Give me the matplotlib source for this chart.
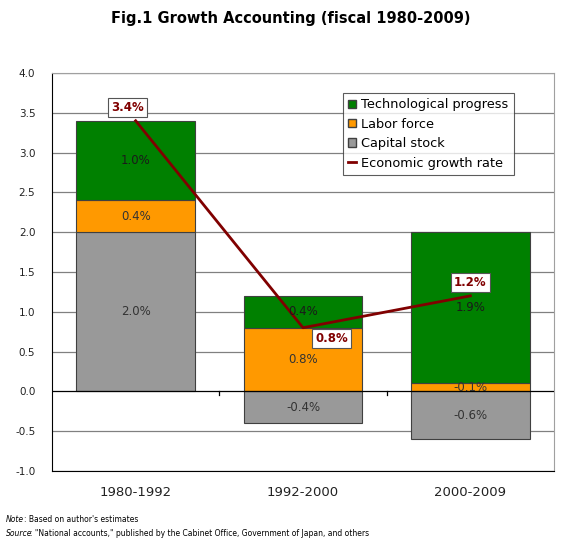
import matplotlib
matplotlib.use("Agg")
import matplotlib.pyplot as plt
import numpy as np
from matplotlib.patches import Patch
from matplotlib.lines import Line2D

periods = ["1980-1992", "1992-2000", "2000-2009"]
capital = [2.0, -0.4, -0.6]
labor = [0.4, 0.8, 0.1]
tech = [1.0, 0.4, 1.9]
growth = [3.4, 0.8, 1.2]
capital_labels = ["2.0%", "-0.4%", "-0.6%"]
labor_labels = ["0.4%", "0.8%", "-0.1%"]
tech_labels = ["1.0%", "0.4%", "1.9%"]
growth_labels = ["3.4%", "0.8%", "1.2%"]
yticks = [-1.0, -0.5, 0.0, 0.5, 1.0, 1.5, 2.0, 2.5, 3.0, 3.5, 4.0]

GREEN = "#008000"
ORANGE = "#FF9900"
GRAY = "#999999"
LINE = "#800000"

fig = plt.figure(figsize=(5.87, 5.46), dpi=100)
ax = fig.add_axes([52/587, 75/546, (554-52)/587, (471-73)/546])

x = np.arange(len(periods))
w = 0.71
cap = np.array(capital)
lab = np.array(labor)
tec = np.array(tech)
base_lab = np.where(cap > 0, cap, 0)
base_tec = base_lab + lab

ax.bar(x, cap, w, color=GRAY, edgecolor="#404040", linewidth=0.8, zorder=3)
ax.bar(x, lab, w, bottom=base_lab, color=ORANGE, edgecolor="#404040", linewidth=0.8, zorder=3)
ax.bar(x, tec, w, bottom=base_tec, color=GREEN, edgecolor="#404040", linewidth=0.8, zorder=3)

fs = 8.5
for i in range(len(x)):
    ax.text(x[i], cap[i] / 2, capital_labels[i], ha="center", va="center", fontsize=fs, color="#333333", zorder=5)
    ax.text(x[i], base_lab[i] + lab[i] / 2, labor_labels[i], ha="center", va="center", fontsize=fs, color="#333333", zorder=5)
    ax.text(x[i], base_tec[i] + tec[i] / 2, tech_labels[i], ha="center", va="center", fontsize=fs, color="#1a1a1a", zorder=5)

ax.plot(x, growth, color=LINE, linewidth=2, zorder=4)

offsets = [(-0.05, 0.17), (0.17, -0.14), (0.0, 0.17)]
for i in range(len(x)):
    dx, dy = offsets[i]
    ax.text(x[i] + dx, growth[i] + dy, growth_labels[i], ha="center", va="center",
            fontsize=8.5, fontweight="bold", color=LINE, zorder=6,
            bbox=dict(boxstyle="square,pad=0.25", facecolor="white", edgecolor="#555555", linewidth=0.8))

ax.set_xlim(-0.5, 2.5)
ax.set_ylim(-1.0, 4.0)
ax.set_yticks(yticks)
ax.set_yticklabels([f"{v:.1f}" for v in yticks], fontsize=7.5, color="#222222")
ax.set_xticks(x)
ax.set_xticklabels(periods, fontsize=9.5, color="#222222")
ax.tick_params(axis="x", length=0, pad=11)
ax.tick_params(axis="y", length=0, pad=12)

for v in yticks:
    if v != 0.0:
        ax.axhline(v, color="#808080", linewidth=0.9, zorder=1)
ax.axhline(0, color="black", linewidth=0.9, zorder=3.5)
for b in [0.5, 1.5]:
    ax.plot([b, b], [0, -0.04], color="black", linewidth=0.9, zorder=3.5)

ax.spines["left"].set_color("black")
ax.spines["bottom"].set_color("black")
ax.spines["top"].set_color("#a0a0a0")
ax.spines["right"].set_color("#a0a0a0")

handles = [
    Patch(facecolor=GREEN, edgecolor="#404040", label="Technological progress"),
    Patch(facecolor=ORANGE, edgecolor="#404040", label="Labor force"),
    Patch(facecolor=GRAY, edgecolor="#404040", label="Capital stock"),
    Line2D([0], [0], color=LINE, linewidth=2, label="Economic growth rate"),
]
leg = ax.legend(handles=handles, loc="upper left", bbox_to_anchor=((343-52)/502, (471-93)/398),
                fontsize=9.3, frameon=True, fancybox=False, handlelength=0.6, handleheight=0.6,
                handletextpad=0.4, borderpad=0.4, labelspacing=0.5, borderaxespad=0)
leg.get_frame().set_edgecolor("#333333")
leg.get_frame().set_linewidth(0.8)
leg.set_zorder(7)

fig.text(0.495, 1 - 18/546, "Fig.1 Growth Accounting (fiscal 1980-2009)", ha="center", va="center",
         fontsize=10.5, fontweight="bold")

fig.text(6/587, 1 - 520/546, "Note", fontsize=5.5, style="italic", va="center")
fig.text(24/587, 1 - 520/546, ": Based on author's estimates", fontsize=5.5, va="center")
fig.text(6/587, 1 - 534/546, "Source", fontsize=5.5, style="italic", va="center")
fig.text(30/587, 1 - 534/546, ": \"National accounts,\" published by the Cabinet Office, Government of Japan, and others",
         fontsize=5.5, va="center")

fig.savefig("out.png", dpi=100)
